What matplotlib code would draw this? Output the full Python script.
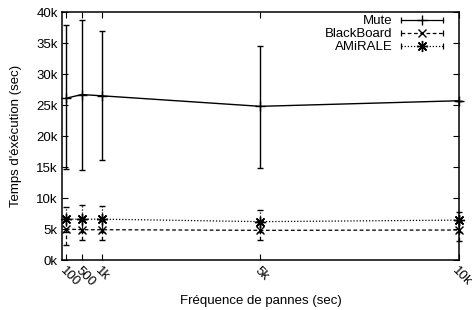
import matplotlib
matplotlib.use("Agg")
import matplotlib.pyplot as plt
from matplotlib.lines import Line2D
from matplotlib.legend_handler import HandlerLine2D, HandlerTuple
import numpy as np

plt.rcParams['font.family'] = ['Liberation Sans', 'DejaVu Sans']

freq = [100, 500, 1000, 5000, 10000]
tick_labels = ["100", "500", "1k", "5k", "10k"]

mute = [26100, 26700, 26500, 24800, 25700]
mute_lo = [14700, 14500, 16200, 14800, 25700]
mute_hi = [37900, 38700, 36900, 34500, 25700]

blackboard = [5000, 4900, 4900, 4800, 4850]
bb_lo = [2400, 3200, 3200, 3200, 3100]
bb_hi = [6800, 6500, 6500, 6300, 6300]

amirale = [6600, 6600, 6600, 6200, 6450]
am_lo = [4600, 4600, 4600, 4500, 4600]
am_hi = [8600, 8900, 8800, 8100, 7800]

fig = plt.figure(figsize=(4.73, 3.10), dpi=100)
ax = fig.add_axes([0.131, 0.161, 0.839, 0.800])

def yerr(v, lo, hi):
    v = np.array(v); return [v - np.array(lo), np.array(hi) - v]

ax.errorbar(freq, mute, yerr=yerr(mute, mute_lo, mute_hi), color='black', lw=1.0,
            marker='+', ms=7, mew=1, capsize=2, elinewidth=1, clip_on=False)
eb = ax.errorbar(freq, blackboard, yerr=yerr(blackboard, bb_lo, bb_hi), color='black', lw=0.9,
            ls=(0, (3, 2)), marker='x', ms=6, mew=1, capsize=2, elinewidth=0.9, clip_on=False)
eb[2][0].set_linestyle((0, (3, 2)))
ea = ax.errorbar(freq, amirale, yerr=yerr(amirale, am_lo, am_hi), color='black', lw=0.9,
            ls=(0, (1, 1.5)), marker=(8, 2, 0), ms=8, mew=1, capsize=2, elinewidth=0.9, clip_on=False)
ea[2][0].set_linestyle((0, (1, 1.5)))

ax.set_xlim(0, 10000)
ax.set_ylim(0, 40000)
ax.set_xticks(freq)
ax.set_xticklabels(tick_labels, rotation=-45, ha='left', va='top', rotation_mode='anchor')
yt = np.arange(0, 40001, 5000)
ax.set_yticks(yt)
ax.set_yticklabels([f"{int(v/1000)}k" for v in yt])
ax.tick_params(direction='in', top=True, right=True, length=4, width=0.8, labelsize=9.5, pad=3)
ax.tick_params(axis='x', pad=3)
for s in ax.spines.values():
    s.set_linewidth(1.1)

ax.set_xlabel("Fréquence de pannes (sec)", fontsize=9.5, labelpad=5)
ax.set_ylabel("Temps d'éxécution (sec)", fontsize=9.5, labelpad=10)

# legend handles
def mk(ls, marker, ms):
    ln = Line2D([], [], color='black', ls=ls, lw=0.9, marker=marker, ms=ms, mew=1)
    caps = Line2D([], [], color='black', ls='none', marker='|', ms=4, mew=0.9)
    return ln, caps

h1 = mk('-', '+', 7)
h2 = mk((0, (3, 2)), 'x', 6)
h3 = mk((0, (1, 1.5)), (8, 2, 0), 8)
hm = {h[1]: HandlerLine2D(numpoints=2, marker_pad=0) for h in (h1, h2, h3)}
hm.update({h[0]: HandlerLine2D(numpoints=1) for h in (h1, h2, h3)})
hm[tuple] = HandlerTuple(ndivide=1, pad=0)
leg = ax.legend([h1, h2, h3], ["Mute", "BlackBoard", "AMiRALE"], handler_map=hm,
                loc='upper right', frameon=False, markerfirst=False, fontsize=9.5,
                handlelength=3.2, handletextpad=0.6, labelspacing=0.05,
                borderaxespad=0.3, bbox_to_anchor=(0.983, 1.025))
for t in leg.get_texts():
    t.set_ha('right')

fig.savefig("out.png", dpi=100)
